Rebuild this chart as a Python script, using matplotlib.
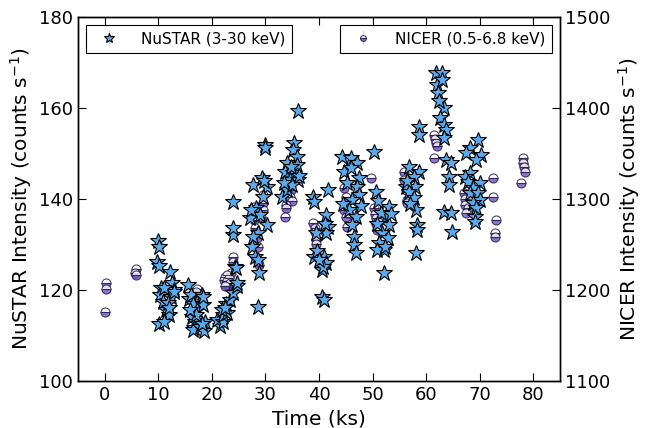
import matplotlib
matplotlib.use("Agg")
import matplotlib.pyplot as plt
import numpy as np

# NuSTAR (3-30 keV): time (ks), rate (counts/s)
nustar_time = [
    10.0, 10.2, 9.8, 10.1, 10.4, 10.3, 10.2, 10.8, 11.5, 11.9, 11.1, 12.2, 12.6, 13.0, 12.4, 11.7, 12.9, 11.0, 12.0,
    15.6, 15.8, 16.0, 16.5, 17.3, 16.3, 16.9, 16.7, 16.5, 17.8, 18.4, 18.7, 18.6, 18.2, 18.2, 18.4, 17.0, 15.9,
    21.5, 21.0, 22.0, 22.1, 22.8, 22.7, 23.4, 23.9, 24.7, 24.3, 24.5, 24.7, 23.9, 23.9, 23.9, 21.8, 22.5,
    29.9, 29.9, 27.6, 29.3, 30.2, 29.5, 27.1, 30.2, 28.6, 27.6, 27.5, 28.0, 28.6, 28.8, 28.6, 28.2, 28.9, 29.8, 27.3,
    35.4, 35.1, 35.8, 34.1, 35.8, 33.6, 35.1, 34.5, 36.0, 33.0, 36.0, 34.0, 35.0, 36.2, 33.5, 34.8,
    38.8, 39.1, 41.6, 41.4, 41.6, 41.4, 39.5, 39.1, 41.0, 41.4, 40.6, 40.6, 41.0, 40.8, 39.6, 40.0, 41.2,
    44.3, 46.0, 47.1, 44.7, 46.0, 47.5, 47.1, 47.5, 46.2, 45.6, 46.9, 46.2, 46.6, 46.6, 46.9, 45.2, 44.5, 47.8,
    50.3, 50.6, 53.1, 52.5, 53.1, 51.8, 51.2, 52.1, 50.8, 52.1, 51.5, 52.8, 50.9, 53.4, 51.0, 52.3,
    56.8, 58.6, 57.7, 56.2, 58.0, 56.8, 57.7, 58.1, 58.3, 58.3, 58.1, 58.6, 58.6, 57.0, 56.5,
    61.8, 62.9, 62.0, 62.9, 62.3, 63.3, 62.7, 63.3, 63.8, 63.3, 63.8, 64.6, 64.2, 64.2, 63.3, 64.6, 64.8, 62.5,
    69.8, 68.3, 67.5, 70.3, 69.4, 68.3, 67.3, 67.9, 70.1, 68.8, 68.3, 69.8, 70.1, 68.8, 69.4, 69.2, 69.2,
]
nustar_rate = [
    130.8, 129.5, 126.2, 125.3, 120.5, 119.0, 112.5, 117.3, 115.5, 114.5, 113.0, 124.0, 121.5, 120.0, 118.5, 117.2, 119.5, 120.5, 116.0,
    121.0, 118.0, 118.8, 117.0, 115.6, 114.0, 113.0, 111.6, 111.2, 111.9, 116.7, 113.0, 111.0, 112.5, 118.9, 118.5, 114.5, 115.5,
    112.0, 113.5, 113.0, 114.5, 115.0, 117.0, 117.8, 119.3, 120.9, 125.0, 124.8, 121.5, 132.0, 133.6, 139.3, 115.5, 116.0,
    151.9, 151.2, 143.0, 144.6, 142.6, 140.4, 135.8, 134.3, 132.5, 131.6, 129.5, 127.3, 126.6, 123.7, 116.3, 138.0, 136.5, 144.0, 137.5,
    152.3, 150.8, 149.2, 148.0, 147.5, 146.0, 145.7, 144.2, 144.2, 140.4, 159.3, 142.0, 143.0, 145.0, 143.5, 147.0,
    140.4, 139.3, 142.0, 136.5, 133.8, 132.5, 132.5, 127.3, 127.3, 126.0, 124.4, 118.5, 117.8, 125.0, 128.5, 126.5, 134.5,
    149.2, 149.0, 147.9, 146.0, 146.9, 144.6, 142.6, 140.9, 139.8, 137.6, 136.0, 134.3, 131.6, 129.9, 128.1, 143.5, 139.0, 138.5,
    150.3, 141.5, 138.2, 136.0, 134.3, 132.5, 130.3, 128.8, 128.8, 123.7, 137.0, 131.5, 134.5, 136.8, 139.5, 129.5,
    147.0, 146.0, 144.8, 142.6, 142.6, 141.5, 140.2, 137.6, 134.3, 133.2, 128.1, 155.8, 154.1, 139.0, 144.0,
    167.7, 167.7, 165.0, 166.2, 163.3, 160.0, 157.8, 156.3, 155.2, 153.4, 148.6, 147.9, 144.8, 143.1, 137.1, 136.9, 132.7, 161.5,
    153.0, 151.2, 150.1, 149.7, 148.6, 145.7, 144.8, 143.7, 143.5, 142.4, 141.3, 141.3, 139.8, 139.1, 138.0, 136.0, 134.9,
]
nustar_err = 1.0

# NICER (0.5-6.8 keV): time (ks), rate (counts/s)
nicer_time = [
    0.3, 0.2, 0.1,
    5.8, 5.7, 5.8,
    17.2, 17.0, 16.9, 17.1,
    22.3, 22.6, 22.8, 23.0, 22.5, 23.2, 23.6, 23.9, 24.0, 22.9, 23.3, 22.4,
    27.8, 29.5, 29.5, 29.2, 27.8, 28.4, 28.6, 28.6, 28.8, 29.5, 28.0, 28.3,
    34.1, 34.1, 34.5, 33.9, 33.6, 33.9, 34.8, 35.0,
    38.9, 39.3, 39.5, 39.5, 39.2, 39.8,
    44.7, 44.7, 45.1, 45.3, 45.0, 45.5,
    49.8, 50.3, 50.6, 50.6, 50.8, 50.4, 51.0,
    55.9, 55.9, 56.4, 56.4, 56.2,
    61.4, 61.8, 61.4, 61.6, 62.0,
    67.0, 67.3, 67.5, 67.2, 67.8,
    72.5, 72.5, 73.0, 72.8, 72.8,
    78.1, 78.1, 78.3, 78.5, 77.8,
]
nicer_rate = [
    1208, 1201, 1176,
    1223, 1219, 1216,
    1201, 1195, 1186, 1198,
    1211, 1206, 1210, 1205, 1214, 1213, 1219, 1231, 1236, 1216, 1208, 1204,
    1291, 1296, 1288, 1280, 1277, 1257, 1247, 1231, 1227, 1304, 1268, 1262,
    1315, 1308, 1302, 1293, 1280, 1290, 1310, 1298,
    1274, 1264, 1255, 1250, 1268, 1258,
    1312, 1288, 1280, 1269, 1302, 1285,
    1323, 1290, 1279, 1272, 1266, 1284, 1275,
    1330, 1321, 1299, 1296, 1310,
    1370, 1362, 1345, 1366, 1358,
    1307, 1293, 1285, 1300, 1290,
    1323, 1302, 1277, 1263, 1258,
    1345, 1340, 1335, 1330, 1318,
]
nicer_err = 4.0

plt.rcParams.update({
    "font.family": ["DejaVu Sans"],
    "xtick.direction": "in",
    "ytick.direction": "in",
    "xtick.top": True,
    "xtick.major.size": 6,
    "ytick.major.size": 6,
    "axes.linewidth": 1.0,
})

fig = plt.figure(figsize=(6.51, 4.28), dpi=100, facecolor="white")
ax1 = fig.add_axes([0.12, 0.11, 0.74, 0.85])
ax2 = ax1.twinx()

ax2.errorbar(nicer_time, nicer_rate, yerr=nicer_err, fmt="o", ms=6.5,
             mfc="#7656c8", mfcalt="white", fillstyle="bottom", mec="#1e1448",
             mew=0.8, alpha=0.8, ecolor="0.82", elinewidth=1, capsize=0,
             label="NICER (0.5-6.8 keV)")
ax1.errorbar(nustar_time, nustar_rate, yerr=nustar_err, fmt="*", ms=12,
             mfc="#5AAAEC", mec="black", mew=0.8, ecolor="0.82",
             elinewidth=1, capsize=0, label="NuSTAR (3-30 keV)")

ax1.set_zorder(ax2.get_zorder() + 1)
ax1.patch.set_visible(False)

ax1.set_xlim(-5, 85)
ax1.set_ylim(100, 180)
ax2.set_ylim(1100, 1500)
ax1.set_xticks(np.arange(0, 81, 10))
ax1.set_yticks(np.arange(100, 181, 20))
ax2.set_yticks(np.arange(1100, 1501, 100))
ax1.tick_params(labelsize=13, right=False)
ax2.tick_params(labelsize=13, direction="in", length=6)

ax1.set_xlabel("Time (ks)", fontsize=14.5)
ax1.set_ylabel("NuSTAR Intensity (counts s$^{-1}$)", fontsize=14.5)
ax2.set_ylabel("NICER Intensity (counts s$^{-1}$)", fontsize=14.5)

for ax, loc in ((ax1, "upper left"), (ax2, "upper right")):
    leg = ax.legend(loc=loc, numpoints=1, fancybox=False, fontsize=11,
                    edgecolor="black", framealpha=1, borderaxespad=0.5,
                    markerscale=0.65, handlelength=2.2, handletextpad=1.0,
                    borderpad=0.42)
    leg.get_frame().set_linewidth(0.8)

fig.savefig("out.png", dpi=100, facecolor="white")
